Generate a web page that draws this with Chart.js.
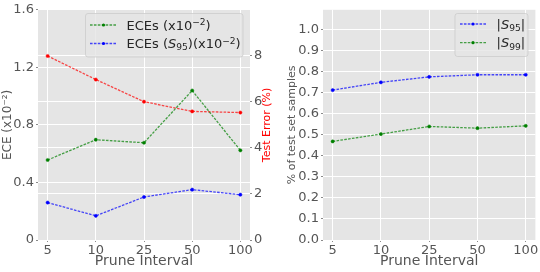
<!DOCTYPE html>
<html><head><meta charset="utf-8">
<script src="https://cdn.jsdelivr.net/npm/chart.js@4.4.0/dist/chart.umd.min.js"></script>
<style>
html,body{margin:0;padding:0;background:#fff;width:540px;height:272px;overflow:hidden}
#c1{position:absolute;left:0;top:0}
#c2{position:absolute;left:270px;top:0}
</style></head>
<body>
<canvas id="c1" width="280" height="272"></canvas>
<canvas id="c2" width="270" height="272"></canvas>
<script>
// ---- data ----
const categories = ['5', '10', '25', '50', '100'];
const eceValues = [0.556, 0.697, 0.676, 1.039, 0.623];
const eceS95Values = [0.260, 0.168, 0.299, 0.350, 0.315];
const testErrorValues = [7.97, 6.95, 5.99, 5.57, 5.52];
const s95Values = [0.713, 0.750, 0.776, 0.786, 0.786];
const s99Values = [0.469, 0.504, 0.540, 0.532, 0.543];
const eceTicks = [0, 0.4, 0.8, 1.2, 1.6];
const errorTicks = [0, 2, 4, 6, 8];
const pctTicks = [0, 0.1, 0.2, 0.3, 0.4, 0.5, 0.6, 0.7, 0.8, 0.9, 1.0];

const FONT = '"DejaVu Sans"';
Chart.defaults.font.family = FONT;
Chart.defaults.color = '#555555';

const GREEN = '#008000', BLUE = '#0000FF', RED = '#FF0000';
const TICK_SIZE = 13;
function rgba(hex, a){
  const n = parseInt(hex.slice(1), 16);
  return `rgba(${n>>16&255},${n>>8&255},${n&255},${a})`;
}
function pts(vals){ return vals.map((v, i) => ({x: i, y: v})); }
function lineDs(label, vals, color, axis){
  return {
    label, data: pts(vals), yAxisID: axis,
    borderColor: rgba(color, 0.7), backgroundColor: color,
    pointBackgroundColor: color, pointBorderColor: color,
    borderWidth: 1.3, borderDash: [2.6, 1.3],
    pointRadius: 1.6, pointHoverRadius: 1.6, pointBorderWidth: 0.5,
    tension: 0, fill: false
  };
}

const bgPlugin = {
  id: 'bg',
  beforeDraw(chart){
    const {ctx, chartArea: a} = chart;
    ctx.save();
    ctx.fillStyle = '#E5E5E5';
    ctx.fillRect(a.left, a.top, a.right - a.left, a.bottom - a.top);
    ctx.restore();
  }
};

function drawRich(ctx, x, y, segs, size, color){
  ctx.fillStyle = color;
  ctx.textBaseline = 'alphabetic';
  ctx.textAlign = 'left';
  for (const s of segs){
    const small = s.sup || s.sub;
    const fs = small ? size * 0.7 : size;
    ctx.font = (s.it ? 'italic ' : '') + fs + 'px ' + FONT;
    const dy = s.sup ? -size * 0.36 : (s.sub ? size * 0.17 : 0);
    ctx.fillText(s.t, x, y + dy);
    x += ctx.measureText(s.t).width;
  }
}

const legendPlugin = {
  id: 'insideLegend',
  afterDatasetsDraw(chart, args, opts){
    if (!opts || !opts.rows) return;
    const ctx = chart.ctx;
    ctx.save();
    const [bx, by, bw, bh] = opts.box;
    const r = 2.5;
    ctx.beginPath();
    ctx.moveTo(bx + r, by);
    ctx.arcTo(bx + bw, by, bx + bw, by + bh, r);
    ctx.arcTo(bx + bw, by + bh, bx, by + bh, r);
    ctx.arcTo(bx, by + bh, bx, by, r);
    ctx.arcTo(bx, by, bx + bw, by, r);
    ctx.closePath();
    ctx.fillStyle = 'rgba(229,229,229,0.8)';
    ctx.fill();
    ctx.strokeStyle = 'rgba(204,204,204,0.8)';
    ctx.lineWidth = 1;
    ctx.stroke();
    for (const row of opts.rows){
      ctx.strokeStyle = rgba(row.color, 0.7);
      ctx.lineWidth = 1.3;
      ctx.setLineDash([2.6, 1.3]);
      ctx.beginPath();
      ctx.moveTo(opts.lineX[0], row.y);
      ctx.lineTo(opts.lineX[1], row.y);
      ctx.stroke();
      ctx.setLineDash([]);
      ctx.fillStyle = row.color;
      ctx.beginPath();
      ctx.arc((opts.lineX[0] + opts.lineX[1]) / 2, row.y, 1.6, 0, Math.PI * 2);
      ctx.fill();
      drawRich(ctx, opts.textX, row.y + 4.7, row.segs, 13, '#262626');
    }
    ctx.restore();
  }
};

const rightTitlePlugin = {
  id: 'rightTitle',
  afterDraw(chart, args, opts){
    if (!opts || !opts.text) return;
    const {ctx, chartArea: a} = chart;
    ctx.save();
    ctx.translate(opts.x, (a.top + a.bottom) / 2);
    ctx.rotate(-Math.PI / 2);
    ctx.fillStyle = opts.color;
    ctx.font = opts.size + 'px ' + FONT;
    ctx.textAlign = 'center';
    ctx.textBaseline = 'middle';
    ctx.fillText(opts.text, 0, 0);
    ctx.restore();
  }
};

function xScale(){
  return {
    type: 'linear', min: -0.2, max: 4.2,
    afterBuildTicks: s => { s.ticks = categories.map((c, i) => ({value: i})); },
    ticks: { callback: v => categories[v], font: {size: TICK_SIZE}, color: '#555555', padding: 1, maxRotation: 0, autoSkip: false },
    grid: { color: '#FFFFFF', lineWidth: 1, tickColor: '#8a8a8a', tickLength: 2 },
    border: { display: false },
    title: { display: true, text: 'Prune Interval', font: {size: 14}, color: '#555555', padding: {top: 0, bottom: 2.5} },
    afterFit: s => { s.height = 32; }
  };
}
function yScale(pos, min, max, tickArr, fmt, width, extra){
  return Object.assign({
    type: 'linear', position: pos, min, max,
    afterBuildTicks: s => { s.ticks = tickArr.map(v => ({value: v})); },
    ticks: { callback: fmt, font: {size: TICK_SIZE}, color: '#555555', padding: 2, includeBounds: false },
    grid: { color: '#FFFFFF', lineWidth: 1, tickColor: '#8a8a8a', tickLength: 2 },
    border: { display: false },
    afterFit: s => { s.width = width; }
  }, extra || {});
}

new Chart(document.getElementById('c1'), {
  type: 'line',
  data: { datasets: [
    lineDs('ECEs (x10⁻²)', eceValues, GREEN, 'y'),
    lineDs('ECEs (S₉₅)(x10⁻²)', eceS95Values, BLUE, 'y'),
    lineDs('Test Error (%)', testErrorValues, RED, 'y2')
  ]},
  options: {
    responsive: false, animation: false, devicePixelRatio: 1,
    layout: { padding: {top: 8, left: 0, right: 0, bottom: 0} },
    scales: {
      x: xScale(),
      y: yScale('left', 0, 1.6, eceTicks, v => String(v), 38, {
        title: { display: true, text: 'ECE (x10⁻²)', font: {size: 12}, color: '#555555', padding: {top: 1, bottom: 0} }
      }),
      y2: yScale('right', 0, 9.97, errorTicks, v => String(v), 30)
    },
    plugins: {
      legend: { display: false }, tooltip: { enabled: false },
      insideLegend: {
        box: [85.5, 13.5, 157.5, 43.5], lineX: [90, 117], textX: 126.5,
        rows: [
          { color: GREEN, y: 25, segs: [{t: 'ECEs (x10'}, {t: '−2', sup: true}, {t: ')'}] },
          { color: BLUE, y: 43.5, segs: [{t: 'ECEs ('}, {t: 'S', it: true}, {t: '95', sub: true}, {t: ')(x10'}, {t: '−2', sup: true}, {t: ')'}] }
        ]
      },
      rightTitle: { text: 'Test Error (%)', x: 267.5, color: RED, size: 11 }
    }
  },
  plugins: [bgPlugin, legendPlugin, rightTitlePlugin]
});

new Chart(document.getElementById('c2'), {
  type: 'line',
  data: { datasets: [
    lineDs('|S₉₅|', s95Values, BLUE, 'y'),
    lineDs('|S₉₉|', s99Values, GREEN, 'y')
  ]},
  options: {
    responsive: false, animation: false, devicePixelRatio: 1,
    layout: { padding: {top: 8, left: 0, right: 4.6, bottom: 0} },
    scales: {
      x: xScale(),
      y: yScale('left', 0, 1.095, pctTicks, v => v.toFixed(1), 53, {
        title: { display: true, text: '% of test set samples', font: {size: 11}, color: '#555555', padding: {top: 16, bottom: 0} }
      })
    },
    plugins: {
      legend: { display: false }, tooltip: { enabled: false },
      insideLegend: {
        box: [185, 13.5, 73, 43], lineX: [190, 216], textX: 226.5,
        rows: [
          { color: BLUE, y: 24, segs: [{t: '|'}, {t: 'S', it: true}, {t: '95', sub: true}, {t: '|'}] },
          { color: GREEN, y: 42.7, segs: [{t: '|'}, {t: 'S', it: true}, {t: '99', sub: true}, {t: '|'}] }
        ]
      }
    }
  },
  plugins: [bgPlugin, legendPlugin]
});
</script>
</body></html>
